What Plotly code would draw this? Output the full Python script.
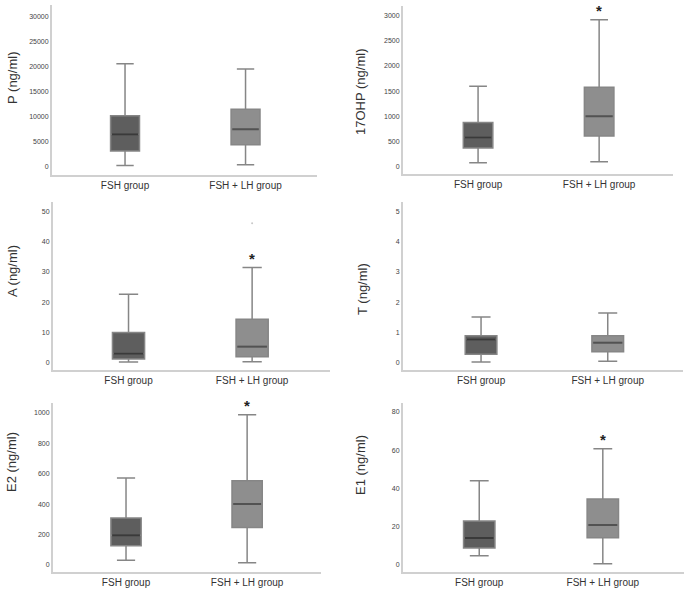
import plotly.graph_objects as go

W, H = 685, 589

groups = ["FSH group", "FSH + LH group"]
titles = ["P (ng/ml)", "17OHP (ng/ml)", "A (ng/ml)", "T (ng/ml)", "E2 (ng/ml)", "E1 (ng/ml)"]

# [FSH group, FSH + LH group]
lower = [[300, 450], [80, 100], [0.2, 0.3], [0.02, 0.05], [31, 15], [4.9, 0.7]]
q1 = [[3200, 4400], [370, 610], [1.2, 2.0], [0.28, 0.36], [127, 247], [8.9, 14.3]]
median = [[6500, 7500], [580, 1000], [3.0, 5.3], [0.77, 0.66], [195, 400], [14.1, 20.9]]
q3 = [[10200, 11500], [880, 1580], [10.0, 14.3], [0.89, 0.89], [309, 554], [23.0, 34.5]]
upper = [[20500, 19500], [1600, 2920], [22.6, 31.4], [1.51, 1.64], [571, 987], [44.1, 60.8]]
significant = [False, True, True, False, True, True]  # FSH + LH group marked with *
outlier_A = [46.0]  # outlier in A panel, FSH + LH group

tick_max = [30000, 3000, 50, 5, 1000, 80]
tick_step = [5000, 500, 10, 1, 200, 20]

# layout geometry (pixels)
dom_x = [(52, 317), (403, 673), (53, 330), (403, 683), (53, 321), (403, 684)]
dom_y = [(5, 175), (6, 174.3), (202, 370), (202, 370), (403.3, 571.7), (403, 571.7)]
y_rng = [(-1590, 32200), (-151, 3193), (-2.4, 53.0), (-0.24, 5.3), (-44, 1062), (-3.5, 84.7)]
x_rng = [(-0.606, 1.593), (-0.62, 1.61), (-0.611, 1.63), (-0.616, 1.594), (-0.603, 1.61), (-0.617, 1.657)]
box_w = [0.24, 0.244, 0.26, 0.25, 0.25, 0.254]
title_pos = [(12, 78), (360, 92), (12, 271), (362, 289), (11, 462), (360, 465)]

fills = ["#5e5e5e", "#8e8e8e"]
med_colors = ["#3a3a3a", "#525252"]
line_col = "#868686"

fig = go.Figure()
layout = dict(width=W, height=H, margin=dict(l=0, r=0, t=0, b=0),
              paper_bgcolor="white", plot_bgcolor="white", showlegend=False)
annotations = []

for i in range(6):
    n = "" if i == 0 else str(i + 1)
    xa, ya = "x" + n, "y" + n
    for g in range(2):
        fig.add_trace(go.Box(
            x=[g], q1=[q1[i][g]], median=[median[i][g]], q3=[q3[i][g]],
            lowerfence=[lower[i][g]], upperfence=[upper[i][g]],
            width=box_w[i], whiskerwidth=0.6, fillcolor=fills[g],
            line=dict(color=line_col, width=1.5), boxpoints=False,
            xaxis=xa, yaxis=ya, hoverinfo="skip"))
        hw = box_w[i] / 2
        fig.add_trace(go.Scatter(
            x=[g - hw + 0.01, g + hw - 0.01], y=[median[i][g], median[i][g]],
            mode="lines", line=dict(color=med_colors[g], width=2),
            xaxis=xa, yaxis=ya, hoverinfo="skip"))
    if i == 2:
        fig.add_trace(go.Scatter(
            x=[1] * len(outlier_A), y=outlier_A, mode="markers",
            marker=dict(color="#c8c8c8", size=2), xaxis=xa, yaxis=ya, hoverinfo="skip"))
    if significant[i]:
        annotations.append(dict(x=1, y=upper[i][1], xref=xa, yref=ya, text="<b>*</b>",
                                showarrow=False, yanchor="middle", yshift=9,
                                font=dict(size=15, color="#222", family="Liberation Sans")))
    x0, x1 = dom_x[i]
    y0, y1 = dom_y[i]
    layout["xaxis" + n] = dict(domain=[x0 / W, x1 / W], range=list(x_rng[i]), anchor=ya,
                               tickvals=[0, 1], ticktext=groups, showgrid=False, zeroline=False,
                               showline=True, linecolor="#d0d0d0", linewidth=2, ticks="",
                               tickfont=dict(size=10, color="#333", family="Liberation Sans"),
                               fixedrange=True)
    tv = list(range(0, int(tick_max[i] * 1000) + 1, int(tick_step[i] * 1000)))
    tv = [v / 1000 for v in tv]
    layout["yaxis" + n] = dict(domain=[1 - y1 / H, 1 - y0 / H], range=list(y_rng[i]), anchor=xa,
                               tickvals=tv, ticktext=[str(int(v)) for v in tv],
                               showgrid=False, zeroline=False, showline=True,
                               linecolor="#d0d0d0", linewidth=2, ticks="",
                               tickfont=dict(size=7, color="#444", family="Liberation Sans"),
                               fixedrange=True)
    tx, ty = title_pos[i]
    annotations.append(dict(x=tx / W, y=1 - ty / H, xref="paper", yref="paper", text=titles[i],
                            textangle=-90, showarrow=False, xanchor="center", yanchor="middle",
                            font=dict(size=13, color="#333", family="Liberation Sans")))

layout["annotations"] = annotations
fig.update_layout(**layout)
fig.write_html("out.html", config={"displayModeBar": False},
               post_script="document.body.style.margin='0';")
